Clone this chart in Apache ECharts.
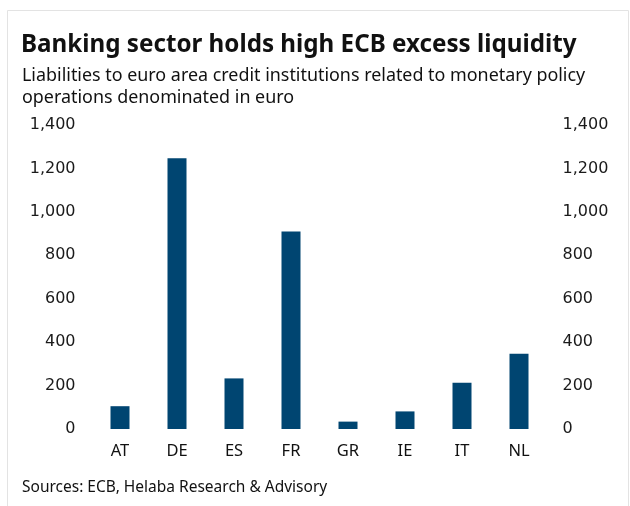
<!DOCTYPE html>
<html><head><meta charset="utf-8">
<script src="https://cdn.jsdelivr.net/npm/echarts@6/dist/echarts.min.js"></script>
<style>html,body{margin:0;padding:0;background:#fff}#c{width:630px;height:506px}</style>
</head><body><div id="c"></div>
<script>
const categories = ['AT','DE','ES','FR','GR','IE','IT','NL'];
const values = [105, 1247, 233, 909, 34, 81, 213, 347];
const yTicks = {min: 0, max: 1400, interval: 200};
const titleText = 'Banking sector holds high ECB excess liquidity';
const subtitleText = 'Liabilities to euro area credit institutions related to monetary policy\noperations denominated in euro';
const sourceText = 'Sources: ECB, Helaba Research & Advisory';

const chart = echarts.init(document.getElementById('c'), null, {renderer:'canvas'});
const fmt = v => v.toLocaleString('en-US');
const axisLabelStyle = {fontFamily:'DejaVu Sans', fontSize:16, color:'#1a1a1a', formatter: fmt};
chart.setOption({
  animation:false,
  backgroundColor:'#fff',
  graphic:[
    {type:'rect', shape:{x:7.5,y:10.5,width:621,height:520}, style:{fill:'none', stroke:'#e3e3e3', lineWidth:1}},
    {type:'text', left:21, top:33, style:{text:titleText, font:'bold 24.2px "Noto Sans"', fill:'#111'}},
    {type:'text', left:22, top:65, style:{text:subtitleText, font:'17.9px "Noto Sans"', lineHeight:22, fill:'#111'}},
    {type:'text', left:22, top:480, style:{text:sourceText, font:'15.5px "Noto Sans"', fill:'#111'}}
  ],
  grid:{left:91.5, right:82.5, top:125, bottom:77, containLabel:false},
  xAxis:{type:'category', data:categories,
    axisLine:{show:false}, axisTick:{show:false},
    axisLabel:{fontFamily:'Noto Sans', fontSize:16.5, color:'#111', margin:14}},
  yAxis:[
    {type:'value', min:yTicks.min, max:yTicks.max, interval:yTicks.interval, splitLine:{show:false},
     axisLine:{show:false}, axisTick:{show:false}, axisLabel:Object.assign({margin:16}, axisLabelStyle)},
    {type:'value', position:'right', min:yTicks.min, max:yTicks.max, interval:yTicks.interval, splitLine:{show:false},
     axisLine:{show:false}, axisTick:{show:false}, axisLabel:Object.assign({margin:15}, axisLabelStyle)}
  ],
  series:[{type:'bar', data:values, barWidth:19, itemStyle:{color:'#004571'}}]
});
</script></body></html>
